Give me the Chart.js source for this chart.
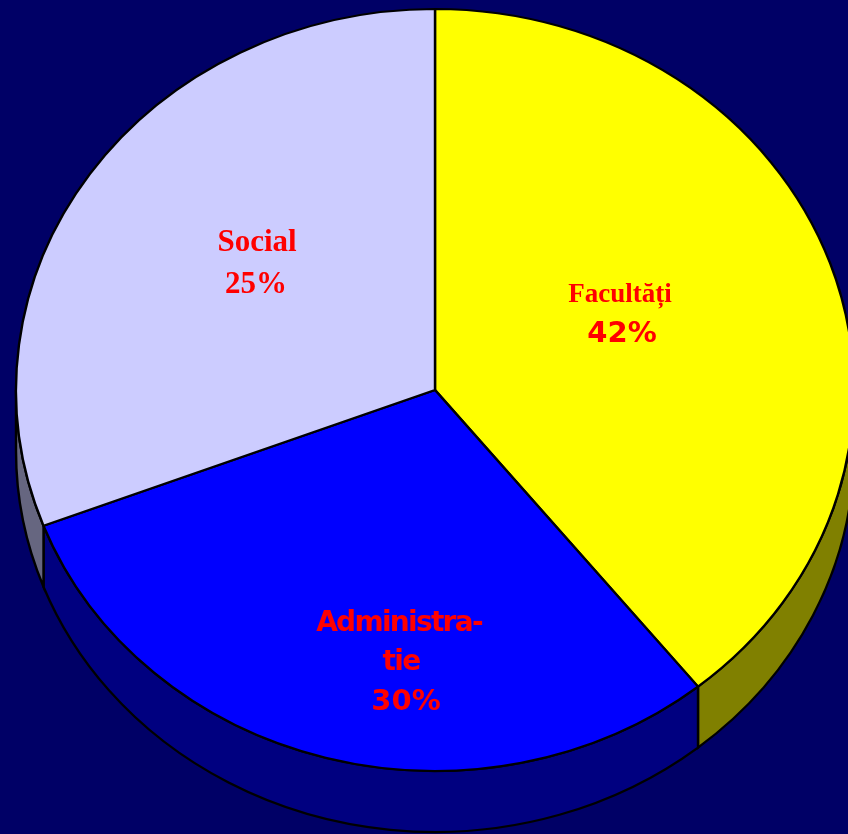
<!DOCTYPE html>
<html>
<head>
<meta charset="utf-8">
<title>Buget</title>
<script src="https://cdn.jsdelivr.net/npm/chart.js@4/dist/chart.umd.min.js"></script>
<style>
  html, body { margin: 0; padding: 0; background: #000066; overflow: hidden; }
  canvas { display: block; }
</style>
</head>
<body>
<canvas id="pie" width="848" height="834"></canvas>
<script>
'use strict';

const categories = ['Facultăți', 'Administrație', 'Social'];
// sizes of the slices as drawn (the printed percents do not match them)
const sliceShares = [39.2, 30, 30.8];
const shownPercents = ['42%', '30%', '25%'];
const topColors = ['#ffff00', '#0000ff', '#ccccff'];
const wallColors = ['#808000', '#000080', '#666680'];

const CX = 435, CY = 390, RX = 419, RY = 381, DEPTH = 61;

// squash the library's round pie into the tilted ellipse
function tilt(ctx, arc) {
  ctx.translate(CX, CY);
  ctx.scale(RX / arc.outerRadius, RY / arc.outerRadius);
  ctx.translate(-arc.x, -arc.y);
}

const tiltedPie = {
  id: 'tiltedPie',
  beforeDatasetsDraw(chart) {
    const ctx = chart.ctx;
    const arcs = chart.getDatasetMeta(0).data;
    ctx.save();
    tilt(ctx, arcs[0]);
    const d = DEPTH * arcs[0].outerRadius / RY;
    // side wall, only the part of each slice facing front
    arcs.forEach((arc, i) => {
      const a0 = Math.max(arc.startAngle, 0);
      const a1 = Math.min(arc.endAngle, Math.PI);
      if (a1 <= a0) return;
      ctx.beginPath();
      ctx.arc(arc.x, arc.y + d, arc.outerRadius, a0, a1);
      ctx.arc(arc.x, arc.y, arc.outerRadius, a1, a0, true);
      ctx.closePath();
      ctx.fillStyle = wallColors[i];
      ctx.fill();
      ctx.lineWidth = 2.4;
      ctx.strokeStyle = '#000';
      ctx.stroke();
    });
  },
  afterDatasetsDraw(chart) {
    chart.ctx.restore();
  },
  afterDraw(chart) {
    const ctx = chart.ctx;
    ctx.save();
    ctx.fillStyle = '#ff0000';
    ctx.textAlign = 'center';
    ctx.textBaseline = 'alphabetic';

    ctx.font = 'bold 27px "Liberation Serif"';
    ctx.fillText(categories[0], 620, 302);

    ctx.font = 'bold 31px "Liberation Serif"';
    ctx.fillText(categories[2], 257, 251);
    ctx.fillText(shownPercents[2], 256, 293);

    ctx.font = 'bold 29px "DejaVu Sans"';
    ctx.fillText(shownPercents[0], 622, 342);
    ctx.fillText(shownPercents[1], 406, 710);

    ctx.font = 'bold 28px "DejaVu Sans"';
    ctx.letterSpacing = '-1.7px';
    ctx.fillText('Administra-', 399, 631);
    ctx.fillText('tie', 401, 670);
    ctx.restore();
  },
};

new Chart(document.getElementById('pie').getContext('2d'), {
  type: 'pie',
  data: {
    labels: categories,
    datasets: [{
      data: sliceShares,
      backgroundColor: topColors,
      borderColor: '#000',
      borderWidth: 2.4,
      borderAlign: 'center',
      clip: false,
    }],
  },
  options: {
    responsive: false,
    animation: false,
    layout: { padding: 0 },
    plugins: { legend: { display: false }, tooltip: { enabled: false } },
  },
  plugins: [tiltedPie],
});
</script>
</body>
</html>
